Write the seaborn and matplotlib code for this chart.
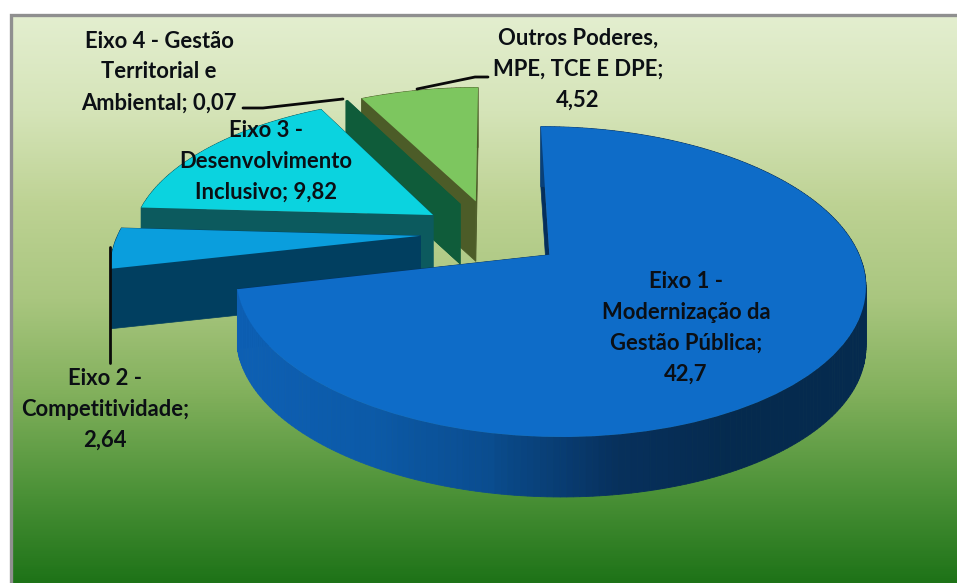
import numpy as np
import matplotlib
matplotlib.use('Agg')
import matplotlib.pyplot as plt
from matplotlib.transforms import Transform
import seaborn as sns

# Step 1: chart values
names = ['Eixo 1 -\nModernização da\nGestão Pública;',
         'Eixo 2 -\nCompetitividade;',
         'Eixo 3 -\nDesenvolvimento\nInclusivo;',
         'Eixo 4 - Gestão\nTerritorial e\nAmbiental;',
         'Outros Poderes,\nMPE, TCE E DPE;']
values = [42.7, 2.64, 9.82, 0.07, 4.52]
value_labels = ['42,7', '2,64', '9,82', '0,07', '4,52']
# label line break before the value, as in the picture
value_seps = ['\n', '\n', ' ', ' ', '\n']

top_colors = ['#0E6CC8', '#0A9EDD', '#0BD3DF', '#0F5C3A', '#7DC65F']
side_colors = ['#0A4F93', '#013F60', '#0C5A5E', '#0F5C3A', '#4C5C28']

sns.set_theme(style='white')
plt.rcParams['font.family'] = ['Lato', 'DejaVu Sans']

W, H = 957, 583
fig = plt.figure(figsize=(W / 100, H / 100), dpi=100)
ax = fig.add_axes([0, 0, 1, 1])

# perspective of the pie, unit circle to pixels
CX, CY, RX, RY, K = 492, 233, 302, 143, 0.17
DEPTH = 60


def project(u, v):
    w = 1 + K * v
    return CX + RX * u / w, CY - RY * v / w


class Persp(Transform):
    input_dims = 2
    output_dims = 2
    is_affine = False
    has_inverse = False

    def transform_non_affine(self, values):
        values = np.asarray(values)
        x, y = project(values[:, 0], values[:, 1])
        return np.column_stack([x, y])


wedges, _ = ax.pie(values, explode=[0.237] * 5, startangle=90, counterclock=False,
                   colors=top_colors, radius=1, wedgeprops={'linewidth': 0})

ax.set_aspect('auto')
ax.set_xlim(0, W)
ax.set_ylim(H, 0)
ax.axis('off')

# Step 2: background gradient inside the grey frame
bg_stops = ['#E3EECF', '#D5E4B8', '#BDD293', '#A9C67F', '#82B05C', '#4E9339', '#1E7318']
bg = np.array(sns.blend_palette(bg_stops, 570))[:, None, :]
fig.patch.set_facecolor('white')
ax.imshow(bg, extent=(12, W, H, 16), aspect='auto', zorder=0, interpolation='bilinear')
ax.set_xlim(0, W)
ax.set_ylim(H, 0)
ax.plot([10.5, 10.5, W], [H, 15, 15], color='#8F8F8F', lw=2.4, zorder=1, solid_joinstyle='miter')

# Step 3: draw slices from back to front
main_side = sns.blend_palette(['#0D5FB3', '#0C5AA8', '#0A4C8E', '#07305C', '#052A4E', '#052A4E'], 100)
trans = Persp() + ax.transData
for z, i in enumerate([4, 3, 2, 1, 0]):
    wd = wedges[i]
    cu, cv = wd.center
    base = 2 + z * 3
    # radial walls
    for th in [wd.theta1, wd.theta2]:
        ou = cu + np.cos(np.radians(th))
        ov = cv + np.sin(np.radians(th))
        x0, y0 = project(cu, cv)
        x1, y1 = project(ou, ov)
        ax.fill([x0, x1, x1, x0], [y0, y1, y1 + DEPTH, y0 + DEPTH],
                color=side_colors[i] if i else '#052F5C', lw=0.5, zorder=base)
    # outer wall, small quads along the arc
    ang = np.linspace(wd.theta1, wd.theta2, max(int(wd.theta2 - wd.theta1), 2) + 1)
    px, py = project(cu + np.cos(np.radians(ang)), cv + np.sin(np.radians(ang)))
    for j in range(len(ang) - 1):
        c = side_colors[i]
        if i == 0:
            pos = (0.5 * (px[j] + px[j + 1]) - 243) / (865 - 243)
            c = main_side[int(np.clip(pos, 0, 0.99) * 100)]
        ax.fill([px[j], px[j + 1], px[j + 1], px[j]],
                [py[j], py[j + 1], py[j + 1] + DEPTH, py[j] + DEPTH],
                color=c, lw=0.6, zorder=base + 1)
    wd.set_transform(trans)
    wd.set_zorder(base + 2)
    wd.set_clip_on(False)

# Step 4: leader lines
ax.plot([243, 263, 343], [108, 108, 99], color='#0A0A0A', lw=2, zorder=30)
ax.plot([417, 475, 488], [89, 77, 77], color='#0A0A0A', lw=2, zorder=30)
ax.plot([110, 110], [247, 363], color='#0A0A0A', lw=2, zorder=30)

# Step 5: labels
label_x = [686, 105, 266, 159, 578]
label_y = [328, 409, 161, 72, 69]
for i in range(len(names)):
    ax.text(label_x[i], label_y[i], names[i] + value_seps[i] + value_labels[i],
            ha='center', va='center', multialignment='center', fontsize=15.8,
            fontweight='bold', color='#0B0F14', linespacing=1.58, zorder=40)

plt.savefig('out.png', dpi=100)
